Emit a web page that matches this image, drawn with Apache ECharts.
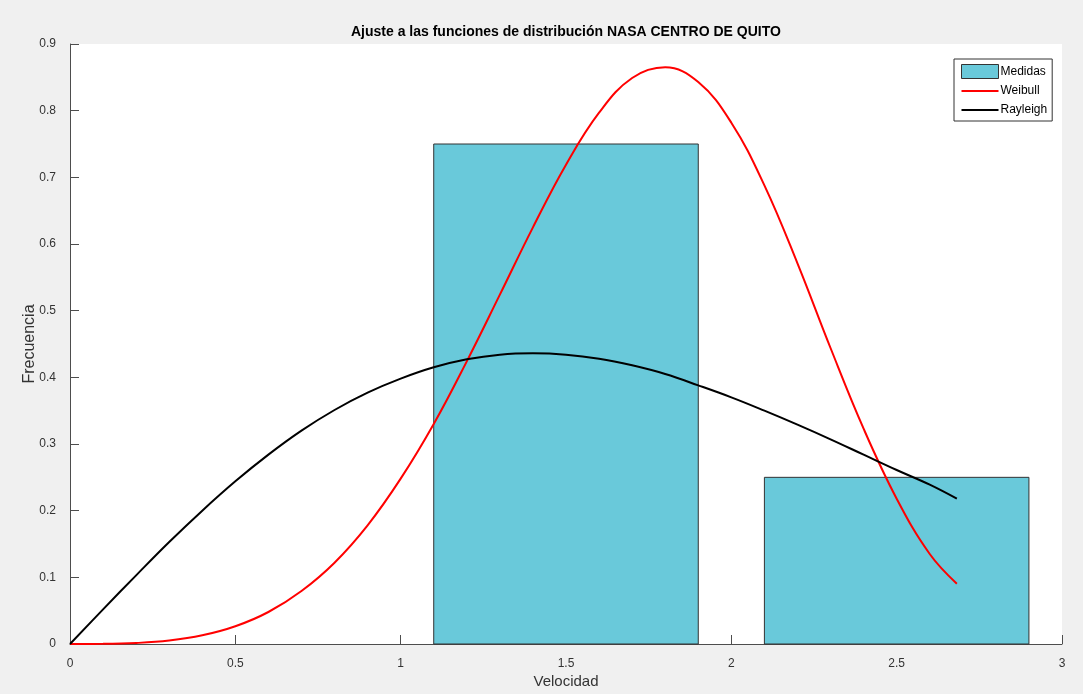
<!DOCTYPE html>
<html>
<head>
<meta charset="utf-8">
<script src="https://cdn.jsdelivr.net/npm/echarts@6/dist/echarts.min.js"></script>
<style>
html,body{margin:0;padding:0;background:#f0f0f0;}
#c{width:1083px;height:694px;}
</style>
</head>
<body>
<div id="c"></div>
<script>
// Histogram bins (Medidas)
const binStart = [1.1, 2.1];
const binEnd   = [1.9, 2.9];
const binFreq  = [0.75, 0.25];

// Fitted curves, sampled along velocity
const velocity = [0, 0.1, 0.2, 0.3, 0.4, 0.5, 0.6, 0.7, 0.8, 0.9, 1.0, 1.1, 1.2, 1.3, 1.4,
                  1.5, 1.6, 1.7, 1.8, 1.9, 2.0, 2.1, 2.2, 2.3, 2.4, 2.5, 2.6, 2.682];
const weibull  = [0, 0.0002, 0.0015, 0.0052, 0.013, 0.0266, 0.048, 0.0795, 0.122, 0.178, 0.248, 0.330,
                  0.424, 0.524, 0.625, 0.719, 0.797, 0.849, 0.865, 0.843, 0.782, 0.688, 0.571,
                  0.444, 0.323, 0.218, 0.135, 0.0905];
const rayleigh = [0, 0.052, 0.103, 0.153, 0.2, 0.244, 0.284, 0.32, 0.351, 0.377, 0.398, 0.415,
                  0.427, 0.434, 0.436, 0.434, 0.428, 0.418, 0.405, 0.388, 0.37, 0.35, 0.329,
                  0.307, 0.284, 0.261, 0.239, 0.218];

const xTicks = { min: 0, max: 3, interval: 0.5 };
const yTicks = { min: 0, max: 0.9, interval: 0.1 };

const barData = binStart.map((s, i) => [s, binEnd[i], binFreq[i]]);
const weibullData = velocity.map((v, i) => [v, weibull[i]]);
const rayleighData = velocity.map((v, i) => [v, rayleigh[i]]);

const FONT = '"Liberation Sans", Arial, Helvetica, sans-serif';
const axisColor = '#4d4d4d';
const lineIcon = 'path://M0,0 M37,14 M0,6 L37,6 L37,8 L0,8 Z';

const chart = echarts.init(document.getElementById('c'), null, {renderer: 'canvas'});
chart.setOption({
  backgroundColor: '#f0f0f0',
  animation: false,
  title: {
    text: 'Ajuste a las funciones de distribución NASA CENTRO DE QUITO',
    left: 351, top: 25,
    padding: 0,
    textStyle: {fontFamily: FONT, fontSize: 14, fontWeight: 'bold', color: '#000'}
  },
  legend: {
    orient: 'vertical',
    left: 954, top: 59,
    padding: [5, 5, 4, 7],
    itemGap: 5,
    itemWidth: 37,
    itemHeight: 14,
    backgroundColor: '#ffffff',
    borderColor: '#333333',
    borderWidth: 1,
    borderRadius: 0,
    textStyle: {fontFamily: FONT, fontSize: 12, color: '#000', padding: [0, 0, 0, -3]},
    data: [
      {name: 'Medidas', icon: 'rect', itemStyle: {borderColor: '#333', borderWidth: 1}},
      {name: 'Weibull', icon: lineIcon},
      {name: 'Rayleigh', icon: lineIcon}
    ]
  },
  grid: {
    left: 70, right: 21, top: 44, bottom: 46,
    show: true, backgroundColor: '#ffffff', borderWidth: 0
  },
  xAxis: {
    type: 'value',
    min: xTicks.min, max: xTicks.max, interval: xTicks.interval,
    name: 'Velocidad', nameLocation: 'middle', nameGap: 30, nameMoveOverlap: false,
    nameTextStyle: {fontFamily: FONT, fontSize: 15, color: '#333'},
    axisLine: {show: true, lineStyle: {color: axisColor, width: 1}},
    axisTick: {show: true, inside: true, length: 9, lineStyle: {color: axisColor}},
    axisLabel: {fontFamily: FONT, fontSize: 12, color: '#333', margin: 14},
    splitLine: {show: false}
  },
  yAxis: {
    type: 'value',
    min: yTicks.min, max: yTicks.max, interval: yTicks.interval,
    name: 'Frecuencia', nameLocation: 'middle', nameGap: 32, nameMoveOverlap: false,
    nameTextStyle: {fontFamily: FONT, fontSize: 16, color: '#333'},
    axisLine: {show: true, lineStyle: {color: axisColor, width: 1}},
    axisTick: {show: true, inside: true, length: 9, lineStyle: {color: axisColor}},
    axisLabel: {fontFamily: FONT, fontSize: 12, color: '#333', margin: 14,
                formatter: v => (Math.round(v * 10) / 10).toString()},
    splitLine: {show: false}
  },
  series: [
    {
      name: 'Medidas',
      type: 'custom',
      data: barData,
      encode: {x: [0, 1], y: 2},
      itemStyle: {color: '#69c9da'},
      renderItem: function (params, api) {
        const p0 = api.coord([api.value(0), api.value(2)]);
        const p1 = api.coord([api.value(1), 0]);
        return {
          type: 'rect',
          shape: {x: p0[0], y: p0[1], width: p1[0] - p0[0], height: p1[1] - p0[1]},
          style: {fill: '#69c9da', stroke: '#333333', lineWidth: 1}
        };
      }
    },
    {
      name: 'Weibull',
      type: 'line',
      data: weibullData,
      smooth: 0.4,
      symbol: 'none',
      color: '#ff0000',
      lineStyle: {color: '#ff0000', width: 2}
    },
    {
      name: 'Rayleigh',
      type: 'line',
      data: rayleighData,
      smooth: 0.4,
      symbol: 'none',
      color: '#000000',
      lineStyle: {color: '#000000', width: 2}
    }
  ]
});
</script>
</body>
</html>
